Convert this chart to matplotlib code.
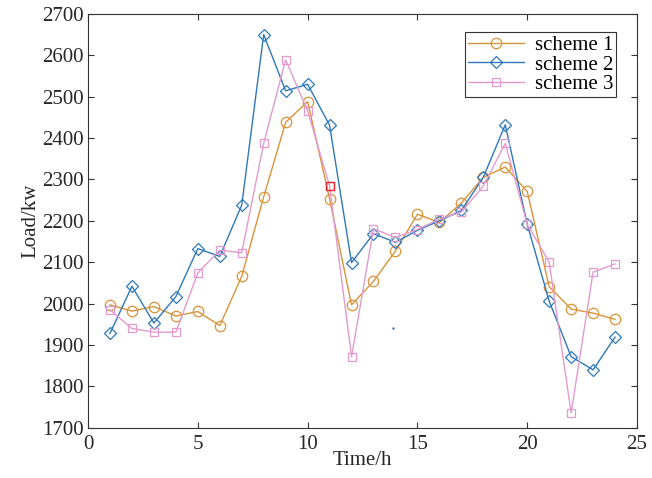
import matplotlib
matplotlib.use("Agg")
import matplotlib.pyplot as plt

plt.rcParams['font.family'] = ['Liberation Serif', 'DejaVu Serif']

hours = list(range(1, 25))
scheme1 = [1997, 1982, 1993, 1970, 1981, 1947, 2066, 2258, 2438, 2488, 2253, 1997,
           2054, 2127, 2216, 2196, 2243, 2305, 2330, 2271, 2041, 1987, 1977, 1962]
scheme2 = [1928, 2042, 1953, 2017, 2133, 2114, 2238, 2650, 2514, 2530, 2431, 2099,
           2169, 2148, 2177, 2200, 2225, 2305, 2432, 2192, 2006, 1872, 1840, 1919]
scheme3 = [1985, 1940, 1931, 1931, 2074, 2129, 2123, 2387, 2589, 2466, 2284, 1872,
           2181, 2160, 2179, 2204, 2221, 2284, 2387, 2192, 2100, 1736, 2076, 2096]
highlight_idx = 10  # red square on scheme 3 at hour 11

c1 = '#D9933A'
c2 = '#2F78BA'
c3 = '#E39BCF'

fig = plt.figure(figsize=(6.52, 4.78), dpi=100)
ax = fig.add_axes([0.135, 0.105, 0.842, 0.866])

ax.plot(hours, scheme1, '-o', color=c1, lw=1.0, ms=7.5, mfc='none', mew=0.9, label='scheme 1')
ax.plot(hours, scheme2, '-D', color=c2, lw=1.0, ms=6.5, mfc='none', mew=0.9, label='scheme 2')
ax.plot(hours, scheme3, '-s', color=c3, lw=1.0, ms=6, mfc='none', mew=0.9, label='scheme 3')
ax.plot(hours[highlight_idx], scheme3[highlight_idx], 's', color='#E8262A', ms=6, mfc='none', mew=1.0)
ax.plot([13.9], [1942], '.', color=c2, ms=1.5)

ax.set_xlim(0, 25)
ax.set_ylim(1700, 2700)
ax.set_xticks([0, 5, 10, 15, 20, 25])
ax.set_yticks(range(1700, 2701, 100))
ax.tick_params(direction='in', top=True, right=True, labelsize=15, length=4, colors='#333333', labelcolor='#262626')
ax.tick_params(axis='x', pad=5)
ax.tick_params(axis='y', pad=3)
for s in ax.spines.values():
    s.set_color('#333333')
    s.set_linewidth(0.8)

ax.set_xlabel('Time/h', fontsize=15, labelpad=-2, color='#262626')
ax.set_ylabel('Load/kw', fontsize=15, labelpad=1, color='#262626')

leg = ax.legend(loc='upper right', bbox_to_anchor=(0.962, 0.955), borderaxespad=0, fontsize=15, fancybox=False,
                framealpha=1, edgecolor='#333333', handlelength=2.7, borderpad=0.15,
                labelspacing=0.0, handletextpad=0.5)
leg.get_frame().set_linewidth(0.8)

fig.savefig('out.png', dpi=100)
